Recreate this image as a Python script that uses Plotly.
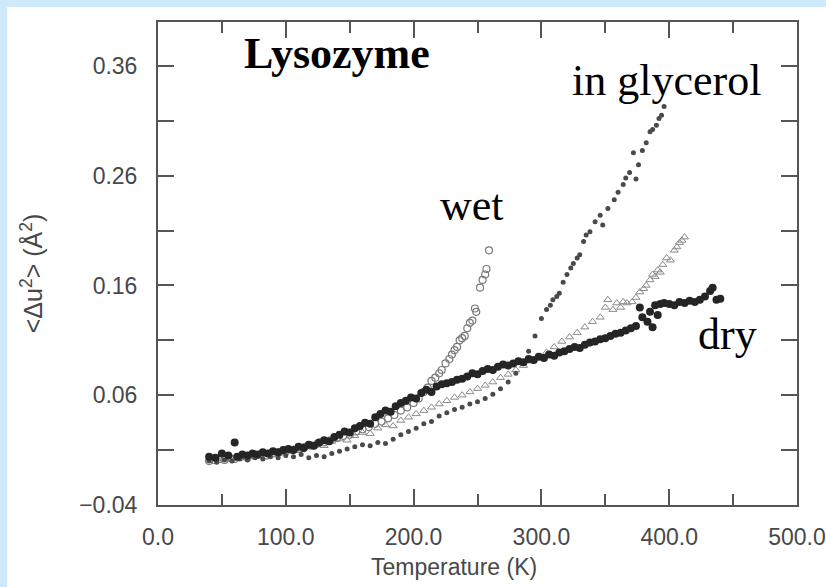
import plotly.graph_objects as go

# Mean-square displacement of lysozyme vs temperature (K, Å^2)
dry_T = [40, 45, 50, 55, 60, 62, 66, 70, 74, 78, 82, 86, 90, 94, 98, 102, 106, 110, 114, 118,
         122, 126, 130, 134, 138, 142, 146, 150, 154, 158, 162, 166, 170, 174, 178, 182, 186,
         190, 194, 198, 202, 206, 210, 214, 218, 222, 226, 230, 234, 238, 242, 246, 250, 254,
         258, 262, 266, 270, 274, 278, 282, 286, 290, 294, 298, 302, 306, 310, 314, 318, 322,
         326, 330, 334, 338, 342, 346, 350, 354, 358, 362, 366, 370, 374, 377, 379, 383, 385,
         387, 389, 391, 393, 396, 400, 404, 408, 412, 416, 420, 424, 428, 432, 434, 437, 440]
dry_u2 = [0.004, 0.003, 0.007, 0.005, 0.017, 0.004, 0.006, 0.005, 0.007, 0.006, 0.008, 0.007,
          0.009, 0.008, 0.010, 0.011, 0.010, 0.013, 0.012, 0.015, 0.014, 0.017, 0.019, 0.018,
          0.022, 0.024, 0.027, 0.026, 0.030, 0.032, 0.035, 0.034, 0.040, 0.043, 0.046, 0.045,
          0.050, 0.053, 0.055, 0.058, 0.057, 0.062, 0.065, 0.063, 0.068, 0.070, 0.071, 0.072,
          0.074, 0.075, 0.077, 0.080, 0.079, 0.082, 0.084, 0.083, 0.086, 0.088, 0.087, 0.089,
          0.091, 0.090, 0.093, 0.092, 0.095, 0.094, 0.097, 0.096, 0.099, 0.100, 0.102, 0.104,
          0.103, 0.106, 0.108, 0.109, 0.111, 0.112, 0.114, 0.116, 0.117, 0.119, 0.121, 0.123,
          0.140, 0.131, 0.127, 0.136, 0.122, 0.142, 0.133, 0.143, 0.144, 0.143, 0.142, 0.145,
          0.144, 0.146, 0.145, 0.147, 0.150, 0.155, 0.158, 0.147, 0.148]

wet_T = [40, 44, 48, 52, 56, 60, 65, 70, 75, 80, 85, 90, 95, 100, 105, 110, 115, 120, 125, 130,
         135, 140, 145, 150, 155, 160, 165, 170, 175, 180, 185, 190, 195, 200, 204, 208, 211,
         214, 217, 220, 222, 225, 228, 230, 232, 234, 236, 238, 240, 242, 244, 246, 248, 249,
         252, 254, 256, 257, 259]
wet_u2 = [0.000, 0.001, 0.002, 0.001, 0.003, 0.002, 0.004, 0.003, 0.005, 0.006, 0.005, 0.007,
          0.008, 0.009, 0.010, 0.011, 0.013, 0.014, 0.016, 0.017, 0.019, 0.021, 0.023, 0.024,
          0.027, 0.029, 0.031, 0.034, 0.036, 0.039, 0.042, 0.046, 0.049, 0.053, 0.057, 0.063,
          0.067, 0.073, 0.076, 0.080, 0.083, 0.089, 0.093, 0.097, 0.101, 0.104, 0.110, 0.112,
          0.114, 0.121, 0.126, 0.128, 0.139, 0.136, 0.158, 0.165, 0.170, 0.175, 0.192]

tri_T = [40, 46, 52, 58, 64, 70, 76, 82, 88, 94, 100, 106, 112, 118, 124, 130, 136, 142, 148,
         154, 160, 166, 172, 178, 184, 190, 196, 202, 208, 214, 220, 226, 232, 238, 244, 250,
         256, 262, 268, 274, 280, 286, 292, 298, 304, 310, 316, 322, 328, 334, 340, 346, 350,
         352, 356, 359, 362, 364, 367, 371, 374, 377, 380, 382, 385, 387, 389, 391, 393, 395,
         398, 401, 404, 406, 408, 410, 412]
tri_u2 = [0.001, 0.002, 0.003, 0.002, 0.004, 0.005, 0.004, 0.006, 0.008, 0.007, 0.009, 0.011,
          0.010, 0.013, 0.015, 0.014, 0.018, 0.020, 0.019, 0.023, 0.026, 0.025, 0.030, 0.033,
          0.032, 0.037, 0.040, 0.043, 0.046, 0.049, 0.052, 0.055, 0.058, 0.060, 0.063, 0.066,
          0.069, 0.072, 0.076, 0.079, 0.083, 0.087, 0.091, 0.095, 0.099, 0.104, 0.109, 0.113,
          0.117, 0.122, 0.127, 0.131, 0.140, 0.147, 0.138, 0.144, 0.140, 0.145, 0.144, 0.145,
          0.149, 0.154, 0.157, 0.160, 0.165, 0.170, 0.168, 0.174, 0.172, 0.179, 0.185, 0.183,
          0.192, 0.195, 0.199, 0.201, 0.204]

gly_T = [40, 46, 52, 58, 64, 70, 76, 82, 88, 94, 100, 106, 112, 118, 124, 130, 136, 142, 148,
         154, 160, 166, 172, 178, 184, 190, 196, 202, 208, 214, 220, 226, 232, 238, 244, 250,
         256, 262, 268, 274, 280, 285, 290, 295, 300, 304, 307, 309, 312, 314, 317, 320, 323,
         325, 328, 330, 333, 335, 338, 342, 346, 348, 352, 357, 360, 364, 366, 369, 372, 374,
         376, 379, 382, 385, 387, 390, 392, 394, 396]
gly_u2 = [0.000, -0.001, 0.001, 0.000, 0.002, 0.001, 0.003, 0.002, 0.004, 0.003, 0.005, 0.004,
          0.006, 0.003, 0.005, 0.004, 0.007, 0.009, 0.011, 0.013, 0.015, 0.014, 0.017, 0.016,
          0.020, 0.024, 0.027, 0.030, 0.034, 0.036, 0.041, 0.044, 0.047, 0.049, 0.052, 0.054,
          0.057, 0.061, 0.066, 0.072, 0.080, 0.089, 0.100, 0.114, 0.130, 0.138, 0.142, 0.147,
          0.150, 0.153, 0.163, 0.170, 0.176, 0.180, 0.185, 0.188, 0.200, 0.206, 0.209, 0.218,
          0.224, 0.215, 0.230, 0.238, 0.245, 0.252, 0.258, 0.263, 0.281, 0.257, 0.270, 0.283,
          0.290, 0.300, 0.302, 0.306, 0.312, 0.315, 0.323]

x_ticks = [0, 100, 200, 300, 400, 500]
x_tick_text = ["0.0", "100.0", "200.0", "300.0", "400.0", "500.0"]
y_ticks = [-0.04, 0.06, 0.16, 0.26, 0.36]
y_tick_text = ["\u22120.04", "0.06", "0.16", "0.26", "0.36"]

AXIS = "#555555"
TEXT = "#484848"
SANS = "Liberation Sans, Arial, sans-serif"
SERIF = "Liberation Serif, Times New Roman, serif"

fig = go.Figure()
fig.add_trace(go.Scatter(x=tri_T, y=tri_u2, mode="markers",
                         marker=dict(symbol="triangle-up-open", size=7, color="#8a8a8a",
                                     line=dict(width=1))))
fig.add_trace(go.Scatter(x=wet_T, y=wet_u2, mode="markers",
                         marker=dict(symbol="circle-open", size=7, color="#7a7a7a",
                                     line=dict(width=1.2))))
fig.add_trace(go.Scatter(x=gly_T, y=gly_u2, mode="markers",
                         marker=dict(symbol="circle", size=5, color="#4a4a4a")))
fig.add_trace(go.Scatter(x=dry_T, y=dry_u2, mode="markers",
                         marker=dict(symbol="circle", size=8, color="#252525")))

axis_common = dict(showline=True, linecolor=AXIS, linewidth=2, mirror="ticks",
                   ticks="inside", ticklen=16, tickwidth=2, tickcolor=AXIS,
                   showgrid=False, zeroline=False,
                   tickfont=dict(family=SANS, size=23, color=TEXT))

fig.update_xaxes(range=[0, 500], tickmode="array", tickvals=x_ticks, ticktext=x_tick_text,
                 ticklabelstandoff=10,
                 minor=dict(tickmode="array", tickvals=[50, 150, 250, 350, 450],
                            ticks="inside", ticklen=11, tickwidth=2, tickcolor=AXIS),
                 **axis_common)
fig.update_yaxes(range=[-0.04, 0.40], tickmode="array", tickvals=y_ticks, ticktext=y_tick_text,
                 ticklabelstandoff=14,
                 minor=dict(tickmode="array", tickvals=[0.01, 0.11, 0.21, 0.31],
                            ticks="inside", ticklen=16, tickwidth=2, tickcolor=AXIS),
                 **axis_common)

# White page inside a light-blue frame
fig.add_shape(type="rect", xref="paper", yref="paper", x0=-0.236, x1=1.06, y0=-0.2, y1=1.031,
              fillcolor="white", line=dict(width=0), layer="below")

labels = [
    ("<b>Lysozyme</b>", 140, 0.371),
    ("in glycerol", 398, 0.347),
    ("wet", 246, 0.233),
    ("dry", 446, 0.115),
]
for txt, xv, yv in labels:
    fig.add_annotation(x=xv, y=yv, xref="x", yref="y", text=txt, showarrow=False,
                       xanchor="center", yanchor="middle",
                       font=dict(family=SERIF, size=44, color="black"))

fig.add_annotation(x=0.464, y=-0.129, xref="paper", yref="paper", text="Temperature (K)",
                   showarrow=False, xanchor="center", yanchor="middle",
                   font=dict(family=SANS, size=23, color=TEXT))
fig.add_annotation(x=-0.197, y=0.48, xref="paper", yref="paper", textangle=-90,
                   text="&lt;\u0394u<sup>2</sup>&gt; (\u00c5<sup>2</sup>)",
                   showarrow=False, xanchor="center", yanchor="middle",
                   font=dict(family=SANS, size=25, color=TEXT))

fig.update_layout(width=826, height=587, showlegend=False,
                  paper_bgcolor="#cde9fb", plot_bgcolor="white",
                  margin=dict(l=158, r=29, t=22, b=82, autoexpand=False))

fig.write_html("out.html")
